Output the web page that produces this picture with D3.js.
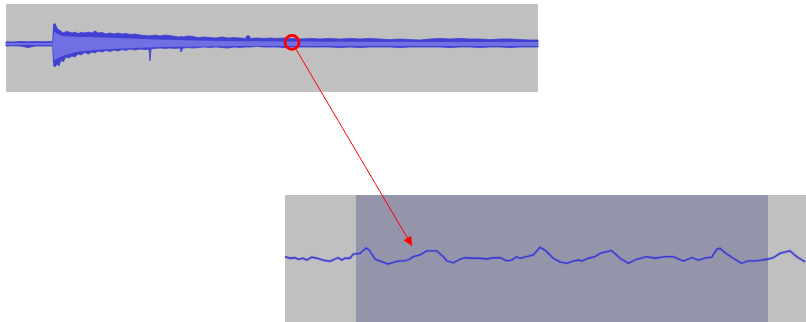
<!DOCTYPE html>
<html>
<head>
<meta charset="utf-8">
<script src="https://cdn.jsdelivr.net/npm/d3@7"></script>
<style>
  body { margin: 0; background: #fff; }
  svg { display: block; }
</style>
</head>
<body>
<div id="chart"></div>
<script>
// overview track: time in seconds, peak envelope
const topTime = [0, 0.3, 0.7, 1.1, 1.45, 1.85, 2.2, 2.33, 2.38, 2.45, 2.55, 2.65, 2.75, 2.85, 3.0, 3.15, 3.3, 3.45,
  3.6, 3.75, 3.95, 4.1, 4.3, 4.45, 4.6, 4.8, 5.0, 5.2, 5.4, 5.6, 5.8, 6.0, 6.2, 6.45, 6.7, 6.95, 7.15, 7.2, 7.25,
  7.45, 7.7, 7.95, 8.2, 8.45, 8.7, 8.75, 8.85, 9.1, 9.35, 9.6, 9.9, 10.2, 10.5, 10.8, 11.1, 11.4, 11.7, 11.95,
  12.1, 12.25, 12.55, 12.85, 13.2, 13.55, 13.9, 14.3, 14.7, 15.2, 15.7, 16.2, 16.7, 17.2, 17.7, 18.2, 18.7,
  19.2, 19.7, 20.2, 20.7, 21.2, 21.7, 22.2, 22.7, 23.2, 23.7, 24.2, 24.7, 25.2, 25.7, 26.2, 26.6];
const topMax = [0.055, 0.05, 0.062, 0.055, 0.062, 0.058, 0.062, 0.062, 0.5, 0.51, 0.4, 0.35, 0.325, 0.275, 0.31, 0.3,
  0.275, 0.3, 0.26, 0.29, 0.275, 0.3, 0.275, 0.325, 0.275, 0.29, 0.25, 0.275, 0.25, 0.275, 0.25, 0.26, 0.24, 0.25,
  0.225, 0.21, 0.2, 0.225, 0.2, 0.225, 0.2, 0.225, 0.21, 0.19, 0.175, 0.19, 0.175, 0.2, 0.19, 0.16, 0.175, 0.16,
  0.15, 0.175, 0.15, 0.16, 0.15, 0.14, 0.225, 0.14, 0.15, 0.14, 0.15, 0.14, 0.15, 0.14, 0.125, 0.14, 0.125, 0.14,
  0.125, 0.14, 0.125, 0.14, 0.125, 0.11, 0.125, 0.11, 0.1, 0.125, 0.14, 0.125, 0.14, 0.125, 0.125, 0.11, 0.125,
  0.125, 0.11, 0.1, 0.1];
const topMin = [-0.05, -0.045, -0.05, -0.09, -0.05, -0.05, -0.05, -0.05, -0.55, -0.575, -0.5, -0.55, -0.4, -0.45,
  -0.325, -0.35, -0.3, -0.325, -0.25, -0.275, -0.21, -0.25, -0.2, -0.225, -0.175, -0.2, -0.16, -0.19, -0.15, -0.175,
  -0.14, -0.16, -0.125, -0.15, -0.125, -0.14, -0.125, -0.425, -0.125, -0.11, -0.1, -0.11, -0.1, -0.11, -0.1, -0.2,
  -0.1, -0.09, -0.1, -0.09, -0.075, -0.09, -0.075, -0.09, -0.1, -0.075, -0.09, -0.075, -0.075, -0.075, -0.06,
  -0.075, -0.075, -0.075, -0.09, -0.075, -0.075, -0.075, -0.075, -0.075, -0.09, -0.075, -0.09, -0.075, -0.075,
  -0.075, -0.09, -0.075, -0.075, -0.075, -0.075, -0.09, -0.075, -0.075, -0.09, -0.075, -0.075, -0.09, -0.075,
  -0.075, -0.075];

// overview track: rms band
const rmsTime = [0, 2.33, 2.4, 2.8, 3.5, 4.5, 5.5, 6.5, 7.5, 8.5, 10, 12, 14, 18, 22, 26.6];
const rmsHi = [0.025, 0.025, 0.3, 0.2, 0.18, 0.17, 0.15, 0.13, 0.11, 0.1, 0.08, 0.07, 0.06, 0.055, 0.05, 0.05];
const rmsLo = [-0.025, -0.025, -0.4, -0.3, -0.2, -0.15, -0.12, -0.1, -0.08, -0.07, -0.06, -0.05, -0.05, -0.05, -0.05, -0.05];

// zoomed view: time in ms, sample amplitude
const zoomTime = [0, 0.5, 1.0, 1.33, 1.8, 2.17, 2.67, 3.17, 3.83, 4.5, 5.0, 5.33, 5.67, 6.0, 6.5, 6.83, 7.5, 8.1,
  8.43, 9.0, 9.5, 10.33, 11.0, 11.5, 12.0, 12.5, 12.83, 13.5, 14.17, 15.17, 15.83, 16.17, 16.83, 17.5, 18.0, 18.67,
  19.5, 20.17, 20.83, 21.5, 22.17, 22.67, 23.17, 23.5, 24.17, 24.83, 25.5, 26.0, 26.5, 26.83, 27.5, 28.17, 28.83,
  29.33, 29.67, 30.33, 31.0, 31.5, 32.17, 32.67, 33.5, 34.33, 35.17, 36.17, 37.0, 38.0, 38.83, 39.83, 40.67, 41.33,
  42.17, 42.67, 43.17, 43.5, 44.17, 44.83, 45.67, 46.33, 47.0, 47.67, 48.33, 48.83, 49.5, 50.17, 50.5, 51.17, 52.0];
const zoomAmp = [0.007, 0.001, 0.003, -0.003, 0.001, -0.006, 0.005, 0.001, -0.006, -0.011, -0.002, 0.003, -0.006,
  0.001, 0.001, 0.017, 0.02, 0.041, 0.033, -0.002, -0.01, -0.022, -0.013, -0.009, -0.009, -0.002, 0.007, 0.014,
  0.03, 0.03, 0.007, -0.009, -0.017, -0.003, 0.003, 0.001, 0.001, -0.002, 0.003, 0.003, -0.009, -0.006, 0.007,
  0.001, 0.007, 0.014, 0.044, 0.033, 0.014, 0.001, -0.013, -0.019, -0.01, -0.006, -0.01, 0.001, 0.007, 0.02,
  0.027, 0.031, 0.001, -0.019, -0.003, 0.007, 0.001, 0.007, 0.007, -0.01, 0.003, -0.006, 0.003, 0.005, 0.036,
  0.04, 0.018, 0.001, -0.019, -0.009, -0.009, -0.006, -0.002, 0.003, 0.02, 0.027, 0.03, 0.007, -0.013];

const selection = [7.1, 48.3];   // ms
const focus = { t: 14.3, amp: 0.04 };   // circled spot in the overview
const arrowTip = { t: 12.7, amp: 0.05 };

const width = 806, height = 322;
const svg = d3.select("#chart").append("svg")
  .attr("width", width)
  .attr("height", height);

svg.append("defs").append("marker")
  .attr("id", "head")
  .attr("viewBox", "0 0 10 10")
  .attr("refX", 10).attr("refY", 5)
  .attr("markerWidth", 11).attr("markerHeight", 9)
  .attr("markerUnits", "userSpaceOnUse")
  .attr("orient", "auto")
  .append("path")
  .attr("d", "M0,0 L10,5 L0,10 Z")
  .attr("fill", "#ff0000");

// ---- overview ----
const x1 = d3.scaleLinear().domain([0, 26.6]).range([6, 538]);
const y1 = d3.scaleLinear().domain([-1, 1]).range([84, 4]);

svg.append("rect")
  .attr("x", 6).attr("y", 4)
  .attr("width", 532).attr("height", 88)
  .attr("fill", "#c0c0c0");

const peak = topTime.map((t, i) => ({ t, hi: topMax[i], lo: topMin[i] }));
const rms = rmsTime.map((t, i) => ({ t, hi: rmsHi[i], lo: rmsLo[i] }));

svg.append("path")
  .datum(peak)
  .attr("d", d3.area().x(d => x1(d.t)).y0(d => y1(d.lo)).y1(d => y1(d.hi)))
  .attr("fill", "#4040d2")
  .attr("stroke", "#4040d2")
  .attr("stroke-width", 0.8);

svg.append("path")
  .datum(rms)
  .attr("d", d3.area().x(d => x1(d.t)).y0(d => y1(d.lo)).y1(d => y1(d.hi)))
  .attr("fill", "#7070e2");

// ---- zoomed view ----
const x2 = d3.scaleLinear().domain([0, 52.1]).range([285, 806]);
const y2 = d3.scaleLinear().domain([-0.25, 0.25]).range([322, 195]);

svg.append("rect")
  .attr("x", 285).attr("y", 195)
  .attr("width", 521).attr("height", 127)
  .attr("fill", "#c0c0c0");

svg.append("rect")
  .attr("x", x2(selection[0])).attr("y", 195)
  .attr("width", x2(selection[1]) - x2(selection[0])).attr("height", 127)
  .attr("fill", "#9494aa");

const samples = zoomTime.map((t, i) => ({ t, a: zoomAmp[i] }));
const line = d3.line().x(d => x2(d.t)).y(d => y2(d.a));

svg.append("path")
  .datum(samples)
  .attr("d", line)
  .attr("fill", "none")
  .attr("stroke", "#6a6ae0")
  .attr("stroke-opacity", 0.5)
  .attr("stroke-width", 2.8);

svg.append("path")
  .datum(samples)
  .attr("d", line)
  .attr("fill", "none")
  .attr("stroke", "#3636cc")
  .attr("stroke-width", 1.3);

// ---- annotation ----
const cx = x1(focus.t), cy = y1(focus.amp), r = 7;
svg.append("circle")
  .attr("cx", cx).attr("cy", cy).attr("r", r)
  .attr("fill", "none")
  .attr("stroke", "#ff0000")
  .attr("stroke-width", 2.8);

const tx = x2(arrowTip.t), ty = y2(arrowTip.amp);
const len = Math.hypot(tx - cx, ty - cy);
svg.append("line")
  .attr("x1", cx + (tx - cx) / len * (r + 1))
  .attr("y1", cy + (ty - cy) / len * (r + 1))
  .attr("x2", tx).attr("y2", ty)
  .attr("stroke", "#ff0000")
  .attr("stroke-width", 1)
  .attr("marker-end", "url(#head)");
</script>
</body>
</html>
